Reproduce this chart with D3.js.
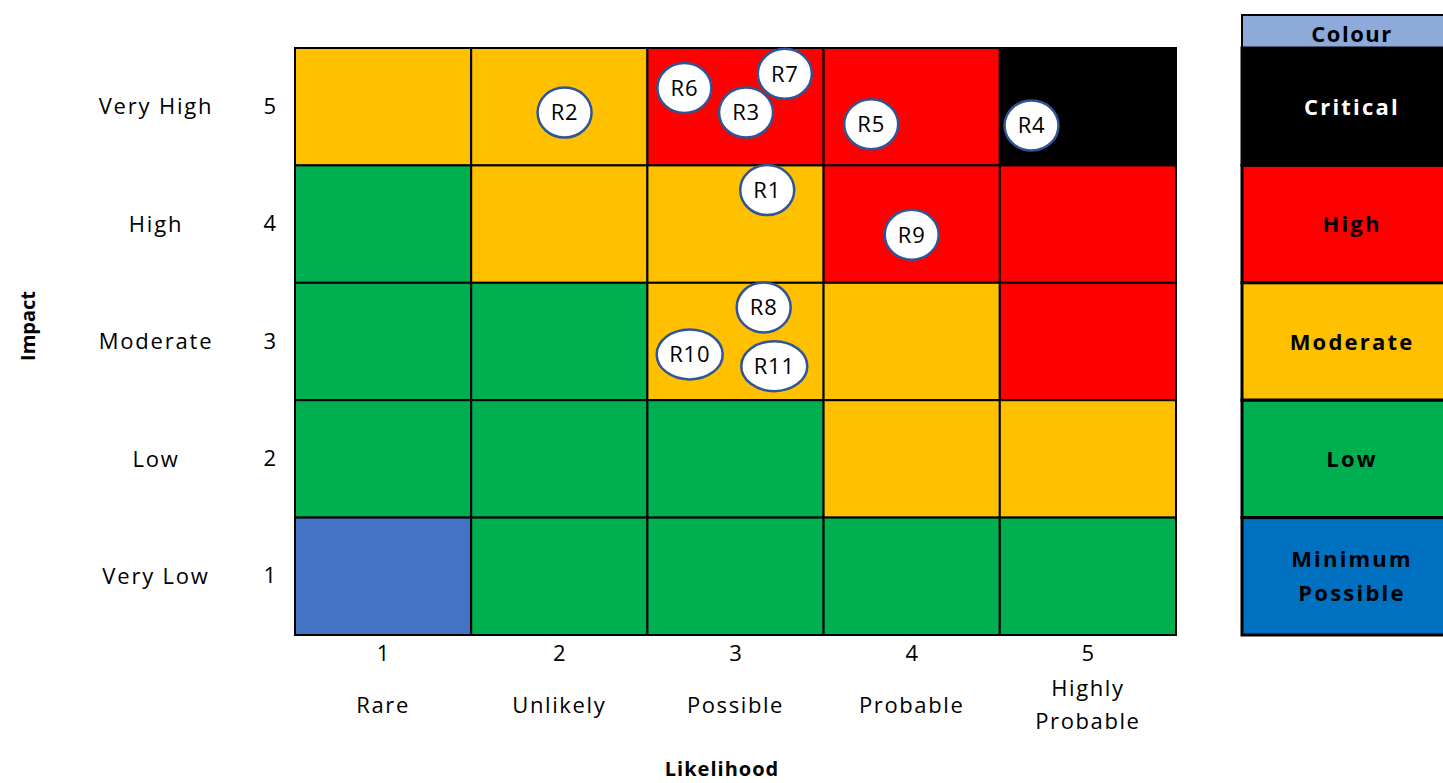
<!DOCTYPE html>
<html>
<head>
<meta charset="utf-8">
<script src="https://cdn.jsdelivr.net/npm/d3@7"></script>
<style>
  body { margin: 0; background: #fff; }
  text { font-family: "Open Sans", sans-serif; }
</style>
</head>
<body>
<div id="chart"></div>
<script>
// likelihood (x) and impact (y) categories
const likelihoodNums = [1, 2, 3, 4, 5];
const likelihoodNames = ["Rare", "Unlikely", "Possible", "Probable", "Highly Probable"];
const impactNums = [5, 4, 3, 2, 1];
const impactNames = ["Very High", "High", "Moderate", "Low", "Very Low"];

// risk level of each cell, rows from impact 5 down to 1
const cellLevels = [
    ["Moderate", "Moderate", "High", "High", "Critical"],
    ["Low", "Moderate", "Moderate", "High", "High"],
    ["Low", "Low", "Moderate", "Moderate", "High"],
    ["Low", "Low", "Low", "Moderate", "Moderate"],
    ["Minimum", "Low", "Low", "Low", "Low"]
];

const legendLevels = ["Critical", "High", "Moderate", "Low", "Minimum Possible"];

// risks placed on the matrix (likelihood, impact)
const riskNames = ["R1", "R2", "R3", "R4", "R5", "R6", "R7", "R8", "R9", "R10", "R11"];
const riskLikelihood = [3.18, 2.03, 3.06, 4.68, 3.77, 2.71, 3.28, 3.16, 4.0, 2.74, 3.22];
const riskImpact = [4.29, 4.95, 4.95, 4.84, 4.85, 5.16, 5.28, 3.29, 3.91, 2.89, 2.79];

const cellColor = {
    "Critical": "#000000",
    "High": "#ff0000",
    "Moderate": "#ffc000",
    "Low": "#00b050",
    "Minimum": "#4472c4"
};
const legendColor = {
    "Critical": "#000000",
    "High": "#ff0000",
    "Moderate": "#ffc000",
    "Low": "#00b050",
    "Minimum Possible": "#0070c0"
};

const width = 1443, height = 783;
const grid = {left: 295, top: 48, right: 1176, bottom: 635};

const svg = d3.select("#chart").append("svg")
    .attr("width", width)
    .attr("height", height);

const x = d3.scaleBand()
    .domain(likelihoodNums)
    .range([grid.left, grid.right]);

const y = d3.scaleBand()
    .domain(impactNums)
    .range([grid.top, grid.bottom]);

// continuous scales for the risk bubbles
const xc = d3.scaleLinear().domain([0.5, 5.5]).range([grid.left, grid.right]);
const yc = d3.scaleLinear().domain([0.5, 5.5]).range([grid.bottom, grid.top]);

// cells
let cells = [];
impactNums.forEach((imp, i) => {
    likelihoodNums.forEach((lik, j) => {
        cells.push({impact: imp, likelihood: lik, level: cellLevels[i][j]});
    });
});

svg.append("g").selectAll("rect")
    .data(cells)
    .enter()
    .append("rect")
    .attr("x", d => x(d.likelihood))
    .attr("y", d => y(d.impact))
    .attr("width", x.bandwidth())
    .attr("height", y.bandwidth())
    .attr("fill", d => cellColor[d.level])
    .attr("stroke", "#000")
    .attr("stroke-width", 2);

// x axis: numbers and names
const xAxis = svg.append("g")
    .attr("transform", `translate(0, ${grid.bottom})`)
    .call(d3.axisBottom(x).tickSize(0).tickPadding(10));
xAxis.select(".domain").remove();
xAxis.selectAll("text")
    .attr("font-family", "Open Sans, sans-serif")
    .attr("font-size", 22)
    .attr("fill", "#000");

const xNames = svg.append("g").selectAll("text")
    .data(likelihoodNums)
    .enter()
    .append("text")
    .attr("x", d => x(d) + x.bandwidth() / 2)
    .attr("text-anchor", "middle")
    .attr("font-size", 22)
    .attr("letter-spacing", 1.6)
    .attr("fill", "#000");
xNames.each(function(d, i) {
    let words = likelihoodNames[i].split(" ");
    let t = d3.select(this);
    if (words.length > 1) {
        words.forEach((w, k) => {
            t.append("tspan")
                .attr("x", x(d) + x.bandwidth() / 2)
                .attr("y", 696 + k * 33)
                .text(w);
        });
    } else {
        t.attr("y", 713).text(likelihoodNames[i]);
    }
});

// y axis: numbers and names
const yAxis = svg.append("g")
    .attr("transform", `translate(${grid.left}, 0)`)
    .call(d3.axisLeft(y).tickSize(0).tickPadding(19));
yAxis.select(".domain").remove();
yAxis.selectAll("text")
    .attr("font-family", "Open Sans, sans-serif")
    .attr("font-size", 22)
    .attr("fill", "#000");

svg.append("g").selectAll("text")
    .data(impactNums)
    .enter()
    .append("text")
    .attr("x", 156)
    .attr("y", d => y(d) + y.bandwidth() / 2)
    .attr("dy", "0.35em")
    .attr("text-anchor", "middle")
    .attr("font-size", 22)
    .attr("letter-spacing", 1.8)
    .attr("fill", "#000")
    .text((d, i) => impactNames[i]);

// axis titles
svg.append("text")
    .attr("transform", `translate(35, 326) rotate(-90)`)
    .attr("text-anchor", "middle")
    .attr("font-size", 20)
    .attr("font-weight", "bold")
    .text("Impact");

svg.append("text")
    .attr("x", 722)
    .attr("y", 776)
    .attr("text-anchor", "middle")
    .attr("font-size", 20)
    .attr("font-weight", "bold")
    .attr("letter-spacing", 1)
    .text("Likelihood");

// legend
const legendX = 1242, legendW = 220;
const legend = svg.append("g");

legend.append("rect")
    .attr("x", legendX)
    .attr("y", 15)
    .attr("width", legendW)
    .attr("height", grid.top - 15)
    .attr("fill", "#8eaadb")
    .attr("stroke", "#000")
    .attr("stroke-width", 2);
legend.append("text")
    .attr("x", legendX + 110)
    .attr("y", 42)
    .attr("text-anchor", "middle")
    .attr("font-size", 22)
    .attr("font-weight", "bold")
    .attr("letter-spacing", 1.5)
    .text("Colour");

const ly = d3.scaleBand()
    .domain(legendLevels)
    .range([grid.top, grid.bottom]);

legend.selectAll(".legend-cell")
    .data(legendLevels)
    .enter()
    .append("rect")
    .attr("class", "legend-cell")
    .attr("x", legendX)
    .attr("y", d => ly(d))
    .attr("width", legendW)
    .attr("height", ly.bandwidth())
    .attr("fill", d => legendColor[d])
    .attr("stroke", "#000")
    .attr("stroke-width", 3);

legend.selectAll(".legend-label")
    .data(legendLevels)
    .enter()
    .append("text")
    .attr("class", "legend-label")
    .attr("text-anchor", "middle")
    .attr("font-size", 22)
    .attr("font-weight", "bold")
    .attr("letter-spacing", 2.2)
    .attr("fill", d => d == "Critical" ? "#fff" : "#000")
    .each(function(d) {
        let words = d.split(" ");
        let t = d3.select(this);
        let cy = ly(d) + ly.bandwidth() / 2;
        if (words.length > 1) {
            words.forEach((w, k) => {
                t.append("tspan")
                    .attr("x", legendX + 110)
                    .attr("y", cy - 9 + k * 34)
                    .text(w);
            });
        } else {
            t.attr("x", legendX + 110).attr("y", cy + 8).text(d);
        }
    });

// risk bubbles
const risks = riskNames.map((name, i) => ({name: name, lik: riskLikelihood[i], imp: riskImpact[i]}));

const bubbles = svg.append("g").selectAll("g")
    .data(risks)
    .enter()
    .append("g")
    .attr("transform", d => `translate(${xc(d.lik)}, ${yc(d.imp)})`);

bubbles.append("ellipse")
    .attr("rx", d => d.name.length > 2 ? 33 : 27)
    .attr("ry", 25)
    .attr("fill", "#fff")
    .attr("stroke", "#2f5597")
    .attr("stroke-width", 2.5);

bubbles.append("text")
    .attr("text-anchor", "middle")
    .attr("dy", "0.36em")
    .attr("font-size", 22)
    .attr("letter-spacing", 0.8)
    .attr("fill", "#000")
    .text(d => d.name);
</script>
</body>
</html>
